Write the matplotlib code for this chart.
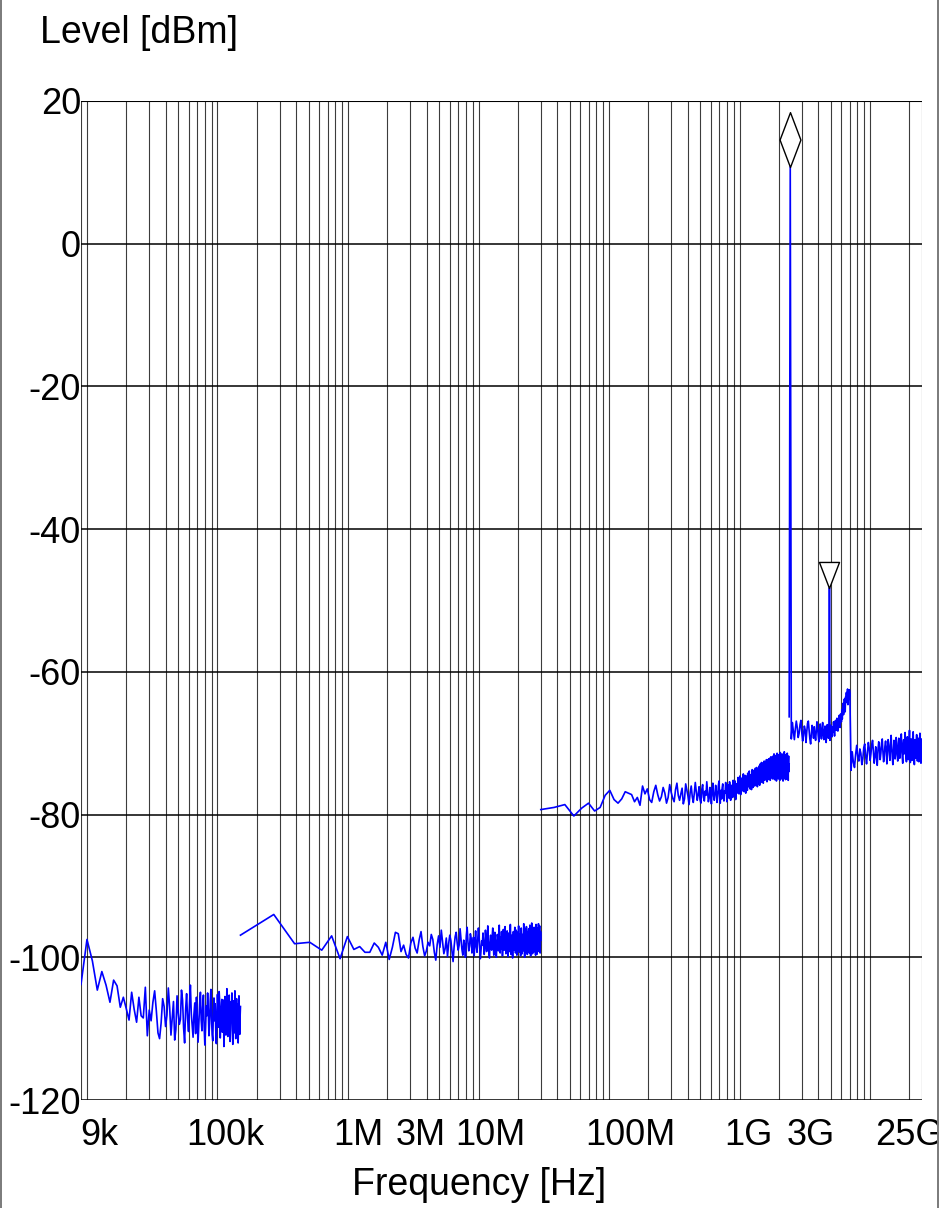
import numpy as np
import matplotlib
matplotlib.use("Agg")
import matplotlib.pyplot as plt
import matplotlib.transforms as mtransforms
from matplotlib.path import Path
from matplotlib.lines import Line2D
from matplotlib.patches import Rectangle

# ---------------------------------------------------------------------------
# Measured spectrum: five analyzer sweeps, each a linear sweep from
# band_start to band_stop with one level per sweep point (dBm).
# ---------------------------------------------------------------------------
band_start = [9e3, 150e3, 30e6, 2.4e9, 7e9]
band_stop = [150e3, 30e6, 2.4e9, 7e9, 25e9]

# 9 kHz - 150 kHz
levels_a = [
    -103.8, -97.5, -100.5, -104.6, -102.0, -103.9, -106.3, -103.2, -104.0, -107.0,
    -105.6, -107.2, -108.8, -104.9, -107.3, -109.1, -105.6, -108.2, -108.5, -104.2,
    -111.0, -107.4,
    -108.9, -106.3, -104.7, -107.5, -110.6, -111.4, -109.2, -105.8, -106.9, -109.7,
    -108.1, -104.3, -107.0, -110.9, -108.5, -106.2, -111.6, -110.1, -105.4, -107.8,
    -109.4, -108.7, -104.6, -106.0, -109.9, -112.0, -107.3, -105.1, -108.6, -110.4,
    -106.7, -103.9, -107.9, -109.5, -111.2, -108.0, -106.4, -110.7, -105.6, -108.3,
    -111.9, -109.1, -106.6, -104.9, -108.8, -110.3, -107.1, -105.3, -109.6, -112.3,
    -110.0, -106.8, -108.2, -105.0, -107.4, -111.0, -109.3, -106.1, -104.5, -108.4,
    -110.8, -111.7, -107.6, -105.7, -108.9, -106.5, -110.2, -112.1, -108.0, -105.2,
    -107.7, -109.8, -104.8, -106.3, -111.3, -109.0, -107.2, -105.9, -110.5, -108.6,
    -106.0, -112.5, -109.4, -105.5, -107.9, -110.9, -108.1, -104.4, -106.8, -111.1,
    -109.7, -107.0, -105.3, -108.5, -111.8, -110.1, -106.2, -108.8, -105.0, -109.2,
    -112.2, -107.5, -106.1, -110.6, -108.3, -104.7, -107.8, -111.4, -109.5, -105.8,
    -108.0, -110.3, -106.6, -112.0, -109.1, -105.4, -107.3, -110.8, -108.4, -106.9,
]

# 150 kHz - 30 MHz
levels_b = [
    -96.9, -94.0, -98.1, -97.9, -99.0, -97.0, -100.2, -97.1, -98.9, -98.5,
    -99.3, -99.3, -98.0, -98.6, -99.7, -97.9, -100.3, -98.6, -96.5, -96.7,
    -99.2,
    -98.3, -99.6, -100.1, -98.0, -97.2, -98.7, -99.4, -97.6, -96.4, -98.5,
    -99.8, -99.1, -97.9, -98.4, -96.8, -97.5, -99.3, -100.4, -98.2, -97.0,
    -98.6, -96.2, -97.8, -99.5, -98.8, -97.3, -99.9, -98.1, -96.9, -97.7,
    -99.2, -100.6, -98.5, -97.1, -96.5, -98.0, -99.0, -98.3, -96.0, -97.4,
    -98.9, -99.7, -97.6, -98.2, -100.0, -97.0, -95.8, -97.9, -99.1, -98.4,
    -96.7, -97.3, -99.4, -98.6, -97.2, -99.8, -98.0, -96.3, -98.5, -99.3,
    -97.5, -95.9, -97.1, -98.8, -100.2, -99.0, -97.7, -98.3, -96.6, -98.1,
    -99.6, -98.7, -96.2, -97.4, -99.2, -97.9, -95.6, -98.0, -99.5, -100.1,
    -97.8, -96.9, -98.6, -99.0, -97.0, -95.9, -98.2, -99.7, -98.4, -96.5,
    -97.6, -99.3, -100.0, -98.1, -96.8, -97.3, -99.1, -97.5, -95.5, -98.3,
    -99.4, -97.2, -98.8, -96.4, -97.9, -99.8, -98.5, -96.1, -97.7, -99.0,
    -98.2, -95.7, -97.4, -99.5, -98.9, -97.0, -96.3, -98.6, -99.9, -97.8,
    -96.6, -98.4, -99.2, -97.1, -95.4, -97.6, -99.6, -98.0, -96.9, -98.7,
    -100.1, -98.3, -96.4, -97.5, -99.0, -97.3, -95.8, -98.1, -99.4, -97.0,
    -96.2, -98.5, -99.7, -97.9, -96.5, -98.8, -97.2, -95.6, -97.8, -99.3,
    -98.6, -96.7, -97.4, -99.8, -98.0, -95.9, -97.1, -98.9, -99.5, -96.8,
    -97.5, -99.1, -98.2, -95.3, -97.0, -98.7, -100.0, -97.6, -96.1, -98.4,
    -99.2, -97.3, -95.7, -96.9, -98.5, -99.6, -97.8, -96.4, -98.1, -99.0,
    -96.0, -97.7, -99.4, -98.3, -95.5, -97.2, -98.9, -99.8, -96.6, -97.9,
    -98.8, -95.2, -96.8, -98.6, -99.5, -97.4, -96.3, -98.0, -99.3, -97.1,
    -95.8, -97.6, -99.0, -98.4, -96.0, -97.3, -99.7, -98.2, -95.4, -97.5,
    -98.9, -99.6, -97.0, -95.9, -96.7, -98.5, -99.2, -97.7, -95.3, -97.8,
    -99.1, -98.3, -96.2, -95.6, -97.9, -99.4, -98.0, -96.4, -97.6,
]

# 30 MHz - 2.4 GHz
levels_c = [
    -79.3, -79.0, -78.6, -80.2, -79.1, -78.4, -79.5, -79.0, -77.3, -76.6,
    -77.9, -78.4, -77.8, -76.8, -77.0, -77.2, -78.2, -77.6, -78.7, -76.0,
    -77.1,
    -76.4, -77.9, -78.3, -76.8, -75.9, -77.2, -78.1, -77.5, -76.2, -77.0,
    -78.4, -77.6, -75.8, -76.9, -77.7, -78.2, -76.5, -75.6, -77.3, -78.0,
    -77.1, -76.3, -78.5, -77.8, -75.7, -76.6, -77.4, -78.6, -76.9, -76.0,
    -77.5, -78.3, -77.0, -75.5, -76.8, -78.0, -77.2, -76.1, -77.9, -78.4,
    -76.5, -75.8, -77.6, -78.1, -76.7, -77.3, -75.4, -76.9, -78.2, -77.7,
    -76.2, -77.0, -78.5, -76.4, -75.6, -77.4, -78.0, -77.1, -75.9, -76.8,
    -78.3, -77.5, -76.0, -75.3, -77.2, -78.4, -76.6, -77.8, -76.3, -75.7,
    -77.6, -78.1, -76.7, -77.0, -75.5, -76.4, -78.2, -77.3, -75.8, -76.9,
    -77.7, -75.4, -76.2, -78.0, -77.1, -75.9, -76.5, -77.6, -75.2, -76.8,
    -77.4, -76.1, -75.3, -77.9, -76.6, -75.7, -77.0, -76.3, -74.8, -76.0,
    -77.1, -75.5, -74.6, -76.4, -77.2, -75.8, -74.9, -76.7, -75.4, -76.1,
    -74.3, -75.9, -76.8, -75.1, -74.5, -76.3, -77.0, -75.2, -74.6, -75.8,
    -76.6, -74.2, -75.5, -76.1, -74.8, -73.9, -75.7, -76.4, -75.0, -74.4,
    -75.9, -76.5, -74.1, -73.7, -75.3, -76.2, -74.7, -75.6, -73.8, -74.9,
    -76.0, -75.2, -73.5, -74.6, -75.8, -74.0, -73.4, -75.4, -76.1, -74.3,
    -73.6, -75.0, -75.7, -73.2, -74.4, -75.9, -74.8, -72.9, -74.1, -75.5,
    -74.6, -72.7, -73.8, -75.3, -74.2, -72.8, -74.9, -75.6, -73.5, -74.0,
    -72.5, -73.9, -75.2, -74.5, -72.6, -73.4, -75.0, -73.7, -72.3, -74.7,
    -75.4, -73.1, -72.4, -74.3, -75.1, -73.6, -72.2, -74.6, -73.3, -74.9,
    -72.1, -73.7, -75.2, -74.0, -72.6, -71.9, -74.2, -74.8, -73.0, -72.4,
    -74.5, -75.0, -73.3, -71.8, -73.6, -74.7, -72.8, -71.5, -73.9, -75.1,
    -74.2, -72.0, -73.4, -74.9, -72.5, -71.7, -73.8, -75.3, -74.0, -72.3,
    -71.4, -73.5, -74.6, -72.9, -73.1, -75.0, -72.2, -71.6, -74.3, -73.7,
    -72.4, -74.8, -75.2, -73.0, -71.3, -72.7, -74.1, -73.6, -71.9, -74.5,
    -75.0, -72.6, -71.5, -73.2, -74.4, -72.1, -73.9, -75.3, -72.8, -71.7,
    -73.4, -74.7, -72.3, -71.2, -73.6, -74.9, -73.0, -72.0, -74.2, -75.1,
    -72.5, -71.6, -73.8, -74.5, -72.2, -73.3, -75.0, -71.9, -71.4, -73.5,
    -74.6, -72.8, -73.1, -75.2, -72.4, -71.8, -74.0, -73.6, -72.9,
]

# 2.4 GHz - 7 GHz (carrier and its second harmonic)
levels_d = [
    -66.3, 10.8, -69.4,
    -67.1, -68.3, -69.5, -68.0, -66.9, -67.8, -69.2, -68.6,
    -67.4, -66.8, -68.5, -69.7, -68.9, -67.6, -68.1, -69.9, -68.4, -67.2,
    -66.9, -68.2, -69.4, -70.1, -68.7, -67.5, -68.0, -69.3, -67.7, -68.8,
    -69.6, -68.3, -67.0, -67.9, -69.0, -69.8, -68.2, -67.3, -68.6, -69.4,
    -68.0, -67.1, -68.9, -69.5, -68.4, -67.6, -68.2, -69.9, -68.5, -67.4,
    -68.7, -69.3, -68.1,
    -48.2,
    -69.6, -68.3, -67.5, -68.8, -69.1, -67.7,
    -68.4, -67.0, -68.1, -69.0, -67.6, -66.8, -68.2, -67.4, -66.5, -67.9,
    -68.3, -66.7, -67.5, -66.1, -67.2, -67.8, -65.9, -66.4, -67.0, -65.3,
    -66.6, -65.0, -64.4, -66.0, -65.2, -63.8, -64.9, -65.6, -63.5, -64.1,
    -62.9, -64.3, -63.2, -62.4, -64.6, -63.1, -62.7, -63.9, -62.5, -63.4,
]

# 7 GHz - 25 GHz
levels_e = [
    -63.0, -73.8,
    -71.2, -72.7, -73.4, -71.6, -70.3, -71.9, -72.5, -70.8, -71.4,
    -73.0, -72.2, -70.6, -70.1, -71.8, -72.9, -71.3, -69.9, -70.7, -72.4,
    -71.5, -70.2, -69.6, -71.1, -72.8, -72.0, -70.5, -71.7, -73.1, -70.9,
    -69.8, -70.6, -72.3, -71.4, -70.0, -69.4, -71.2, -72.6, -71.8, -70.4,
    -69.7, -71.0, -72.9, -70.8, -69.5, -70.3, -71.6, -72.4, -70.1, -68.9,
    -70.7, -71.9, -73.0, -71.1, -69.6, -70.5, -72.2, -71.3, -69.2, -70.0,
    -71.7, -72.5, -70.9, -69.3, -70.6, -72.1, -71.4, -69.8, -68.7, -70.4,
    -72.0, -72.8, -70.2, -69.5, -71.5, -70.8, -68.5, -70.1, -71.9, -72.6,
    -70.6, -69.1, -70.9, -72.3, -71.2, -69.7, -68.2, -70.5, -72.7, -71.0,
    -69.4, -70.7, -72.4, -71.6, -69.0, -68.4, -70.8, -71.8, -73.0, -70.3,
    -69.5, -71.3, -72.1, -70.0, -68.8, -70.6, -72.5, -71.4, -69.3, -70.9,
    -72.6, -71.1, -69.6, -68.6, -70.4, -72.0, -72.8, -70.2, -69.4, -71.5,
]

band_levels = [levels_a, levels_b, levels_c, levels_d, levels_e]

y_ticks = [-120, -100, -80, -60, -40, -20, 0, 20]
x_ticks = [9e3, 1e5, 1e6, 3e6, 1e7, 1e8, 1e9, 3e9, 25e9]
x_tick_labels = ["9k", "100k", "1M", "3M", "10M", "100M", "1G", "3G", "25G"]

# ---------------------------------------------------------------------------
plt.rcParams['font.family'] = ['Liberation Sans', 'DejaVu Sans']

W, H = 943, 1208
fig = plt.figure(figsize=(W / 100, H / 100), dpi=100)
fig.patch.set_facecolor('white')

left_px, right_px, top_px, bottom_px = 81, 922, 101, 1100
ax = fig.add_axes([left_px / W, 1 - bottom_px / H,
                   (right_px - left_px) / W, (bottom_px - top_px) / H])
ax.set_xscale('log')
ax.set_xlim(9e3, 25e9)
ax.set_ylim(-120, 20)
for sp in ax.spines.values():
    sp.set_visible(False)

# log grid: 1..9 per decade plus the sweep limits
grid_freqs = [9e3] + [m * 10.0 ** e for e in range(4, 11) for m in range(1, 10)
                      if 9e3 <= m * 10.0 ** e <= 25e9] + [25e9]
for f in grid_freqs:
    ax.axvline(f, color='#3c3c3c', lw=0.8, zorder=1)
for y in y_ticks:
    ax.axhline(y, color='black', lw=1.5 if y == 20 else 1.1, zorder=1)

# measured trace, one line per sweep band
traces = []
for f0, f1, lev in zip(band_start, band_stop, band_levels):
    freqs = np.linspace(f0, f1, len(lev))
    ax.plot(freqs, lev, color='#0000ff', lw=1.2, zorder=3)
    traces.append((freqs, np.asarray(lev)))

# peak markers: diamond on the carrier, triangle on the harmonic
f_d, l_d = traces[3]
k_main = int(np.argmax(l_d))
harm = np.where((f_d > 4.5e9) & (f_d < 5.5e9))[0]
k_harm = harm[np.argmax(l_d[harm])]

diamond = Path([(0, 0), (0.38, 1), (0, 2), (-0.38, 1), (0, 0)],
               [Path.MOVETO, Path.LINETO, Path.LINETO, Path.LINETO, Path.CLOSEPOLY])
triangle = Path([(0, 0), (0.385, 1), (-0.385, 1), (0, 0)],
                [Path.MOVETO, Path.LINETO, Path.LINETO, Path.CLOSEPOLY])
ax.plot([f_d[k_main]], [l_d[k_main]], marker=diamond, markersize=79,
        markerfacecolor='white', markeredgecolor='black', markeredgewidth=1.0,
        linestyle='none', zorder=5)
ax.plot([f_d[k_harm]], [l_d[k_harm]], marker=triangle, markersize=37.5,
        markerfacecolor='white', markeredgecolor='black', markeredgewidth=1.0,
        linestyle='none', zorder=5)

# ticks and labels
ax.set_yticks(y_ticks)
ax.set_yticklabels([str(v) for v in y_ticks], fontsize=26)
ax.set_xticks(x_ticks)
ax.set_xticklabels(x_tick_labels, fontsize=26)
ax.minorticks_off()
ax.tick_params(axis='both', length=0)
ax.tick_params(axis='y', pad=0)
ax.tick_params(axis='x', pad=13)

label_shift_px = [18, 8, 10, 10, 12, 21, 9, 9, -13]
for lab, dx in zip(ax.get_xticklabels(), label_shift_px):
    lab.set_transform(lab.get_transform() +
                      mtransforms.ScaledTranslation(dx / 100, 0, fig.dpi_scale_trans))

fig.text(40 / W, 1 - 33 / H, "Level [dBm]", fontsize=27, ha='left', va='center')
fig.text(479 / W, 1 - 1185 / H, "Frequency [Hz]", fontsize=27, ha='center', va='center')

# page frame
fig.add_artist(Rectangle((938.5 / W, 0), 1 - 938.5 / W, 1, transform=fig.transFigure,
                         facecolor='white', edgecolor='none', zorder=20))
for xb in (1.0, 938.0):
    fig.add_artist(Line2D([xb / W, xb / W], [0, 1], transform=fig.transFigure,
                          color='#7a7a7a', lw=1.4, zorder=21))

fig.savefig("out.png", dpi=100, facecolor='white')
